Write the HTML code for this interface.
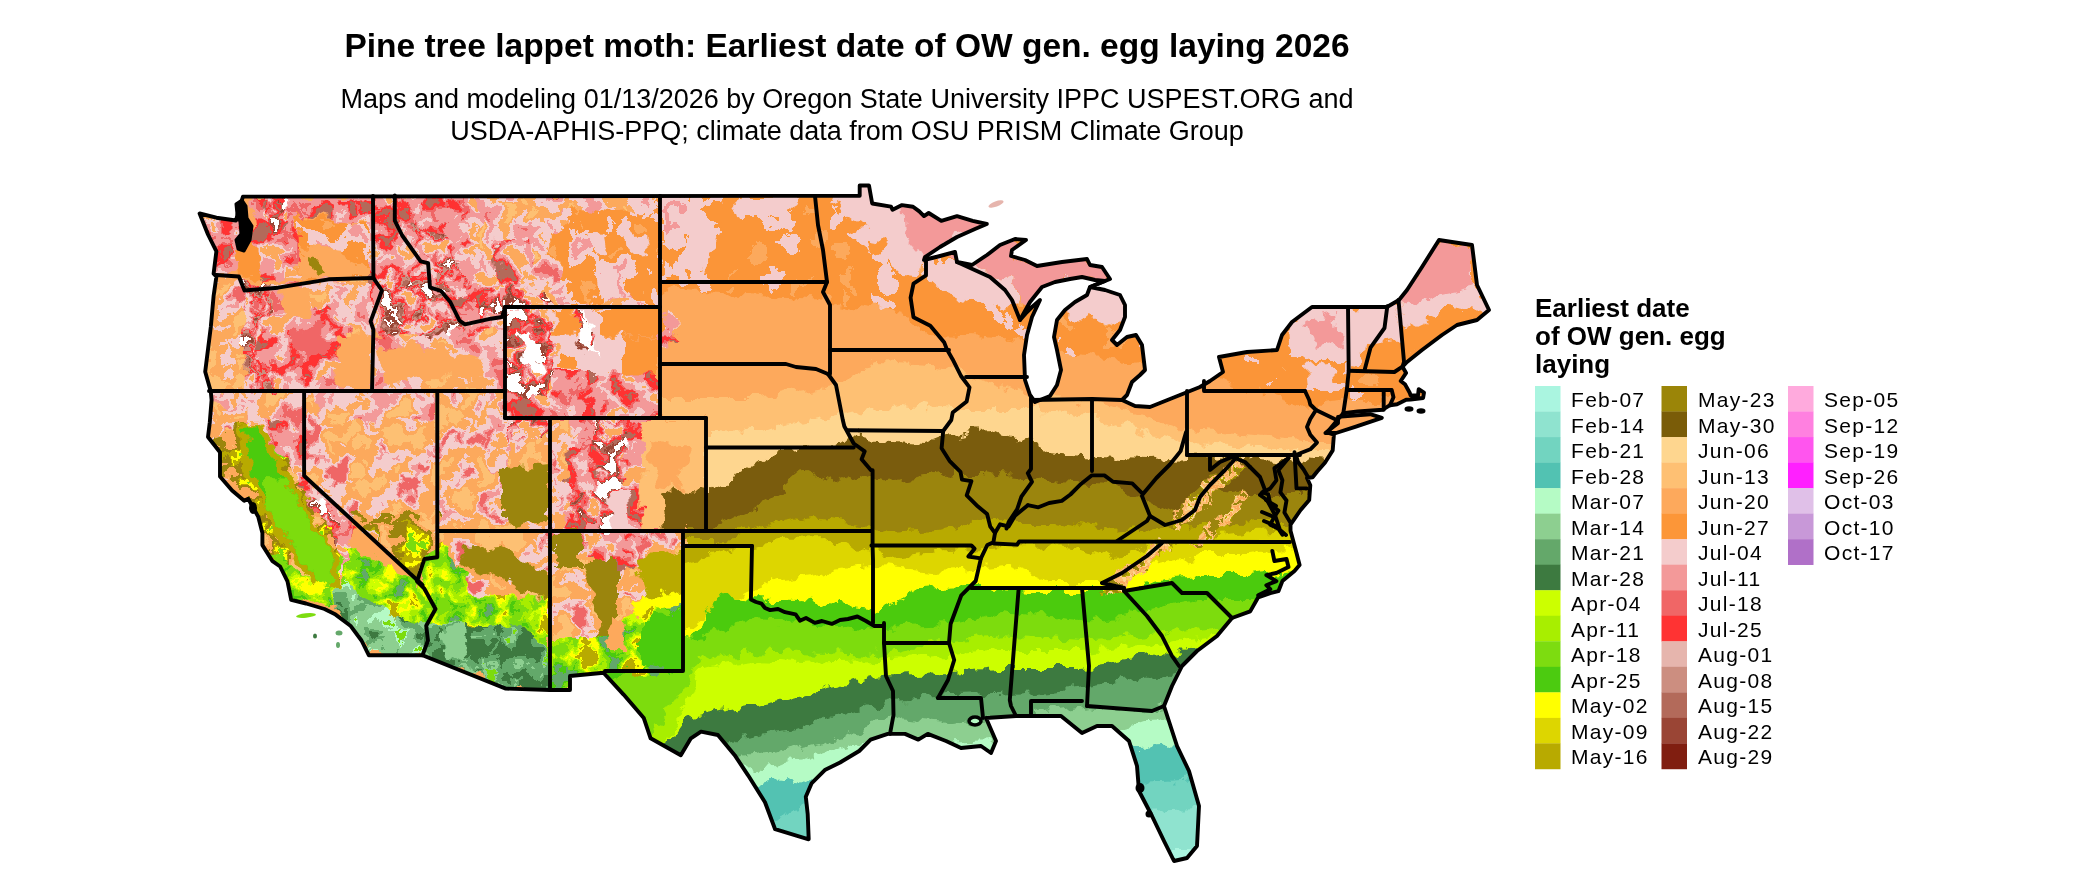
<!DOCTYPE html><html><head><meta charset="utf-8"><style>
html,body{margin:0;padding:0;background:#fff;width:2100px;height:892px;overflow:hidden;}
body{position:relative;font-family:"Liberation Sans",sans-serif;color:#000;}
.t{position:absolute;white-space:nowrap;line-height:1;will-change:transform;}
.title{left:0;width:1694px;text-align:center;font-weight:bold;font-size:33.5px;top:29px;}
.sub{left:0;width:1694px;text-align:center;font-size:27px;}
.lt{left:1534.5px;font-weight:bold;font-size:26px;}
.lab{font-size:21px;letter-spacing:1.3px;}
svg{position:absolute;left:0;top:0;}
</style></head><body>
<svg width="2100" height="892" viewBox="0 0 2100 892">
<defs>
<clipPath id="us"><polygon points="199.6,213.5 216.4,217.7 236,220.5 238.9,209.2 243,196.6 859.7,195.7 859.7,185.5 869,185.5 872.2,203.5 891,206.7 892.6,209.8 902,205.1 913,206.7 919.3,211.4 924,216.1 928.7,213 941.3,220.8 957,216.1 972.7,220.8 986.8,224 975,229 957,237 940,247 925,257 924,260 940,256 955,252 957,262 972,265 987,255 1000,245 1015,239 1026,240 1012,250 1011,256 1025,260 1037,266 1062,262 1087,259 1090,265 1102,267 1110,279 1105,281 1090,287 1105,290 1120,295 1125,305 1125,317 1120,330 1112,340 1117,345 1127,337 1136,335 1142,345 1145,370 1140,375 1132,382 1127,395 1122,400 1135,406 1150,407 1175,397 1200,387 1210,381 1223,372 1219,357 1247,352 1277,350 1282,335 1292,322 1312,307 1347,307 1387,307 1399,300 1407,290 1422,267 1439,240 1452,242 1472,245 1477,285 1489,310 1477,320 1457,325 1442,335 1422,350 1407,362 1402.5,366.7 1406.1,372.9 1400.7,381 1405.2,384.6 1409.7,392.7 1410.6,395.5 1418,395.5 1418.7,389.1 1424,392.7 1423.1,398 1410.6,399.5 1406.1,399.8 1397.1,404.3 1390,405.2 1382.8,409.7 1357.7,411.5 1343.3,413.3 1337.2,420.2 1327.1,432.5 1333.9,434.7 1332.7,450.4 1324.9,462.7 1317,471.7 1312.6,477.3 1307,478 1310.3,485.2 1309.2,500 1300.6,510 1290.5,524.7 1290.5,530.7 1296.5,552.9 1299.6,565 1294.5,571 1282.4,581.1 1278.4,591.2 1270.3,593.2 1258.2,597.3 1250.2,611.4 1232,618 1217,636 1197,651 1182,666 1172,686 1164,706 1177,746 1189,771 1199,806 1197,846 1187,858 1174,861 1164,841 1152,816 1139,791 1137,766 1129,741 1112,726 1097,726 1082,733 1061,716 1028,716 1016,716 986,718 996,741 991,753 981,746 961,748 946,741 927.8,733.9 918.3,739.6 905,733.9 887.8,733.9 870.6,739.6 859.2,751 840.1,762.5 824.8,770.1 811.5,783.4 805.8,796.8 807.7,814 808.7,839.3 775.1,829.2 765,802.3 748.1,775.3 734.7,755.2 717.9,735 701,731.6 690.9,738.3 680.8,755.2 650.6,738.3 643.8,718.1 623.6,694.6 603.5,672.7 570,676 570,690 550,690 505.8,688.6 422.5,655.3 368.9,655.3 368.9,655.3 361.5,640.5 350.4,625.7 335.6,614.6 324.5,609 306,603.5 291.2,599.8 287.5,581.3 280.1,566.5 272.5,561.2 262.4,545.1 262.4,533 258.3,516.9 248.2,498.7 244.2,500.7 232.1,490.6 220,476.5 220,452.3 208,437 209.8,422.2 211.6,400 210.8,391.5 205.2,371.8 206.6,360.6 210.8,327 213.6,296 216.4,276.5 213.6,273.7 216.4,251.3 208,234.5"/></clipPath>
<filter id="pR" filterUnits="userSpaceOnUse" x="150" y="150" width="1400" height="750" color-interpolation-filters="sRGB"><feTurbulence type="fractalNoise" baseFrequency="0.045" numOctaves="3" seed="3" result="n"/><feColorMatrix in="n" type="matrix" values="2.2 0 0 0 -0.600  2.2 0 0 0 -0.600  2.2 0 0 0 -0.600  0 0 0 0 1" result="s"/><feComponentTransfer in="s" result="p"><feFuncR type="discrete" tableValues="0.992 0.957 0.957 0.953 0.953 0.953 0.941 1.000 1.000 0.702"/><feFuncG type="discrete" tableValues="0.663 0.800 0.800 0.600 0.600 0.600 0.400 0.200 0.200 0.416"/><feFuncB type="discrete" tableValues="0.361 0.800 0.800 0.600 0.600 0.600 0.400 0.200 0.200 0.353"/></feComponentTransfer><feComposite in="p" in2="SourceAlpha" operator="in"/></filter>
<filter id="pB" filterUnits="userSpaceOnUse" x="150" y="150" width="1400" height="750" color-interpolation-filters="sRGB"><feTurbulence type="fractalNoise" baseFrequency="0.05" numOctaves="3" seed="5" result="n"/><feColorMatrix in="n" type="matrix" values="2.2 0 0 0 -0.600  2.2 0 0 0 -0.600  2.2 0 0 0 -0.600  0 0 0 0 1" result="s"/><feComponentTransfer in="s" result="p"><feFuncR type="discrete" tableValues="0.992 0.957 0.957 0.953 0.941 1.000 0.800 0.702 0.604 1.000"/><feFuncG type="discrete" tableValues="0.663 0.800 0.800 0.600 0.400 0.200 0.557 0.416 0.271 1.000"/><feFuncB type="discrete" tableValues="0.361 0.800 0.800 0.600 0.400 0.200 0.502 0.353 0.208 1.000"/></feComponentTransfer><feComposite in="p" in2="SourceAlpha" operator="in"/></filter>
<filter id="pPO" filterUnits="userSpaceOnUse" x="150" y="150" width="1400" height="750" color-interpolation-filters="sRGB"><feTurbulence type="fractalNoise" baseFrequency="0.035" numOctaves="3" seed="7" result="n"/><feColorMatrix in="n" type="matrix" values="2.2 0 0 0 -0.600  2.2 0 0 0 -0.600  2.2 0 0 0 -0.600  0 0 0 0 1" result="s"/><feComponentTransfer in="s" result="p"><feFuncR type="discrete" tableValues="0.996 0.992 0.992 0.957 0.957 0.953 0.953 0.941"/><feFuncG type="discrete" tableValues="0.753 0.663 0.663 0.800 0.800 0.600 0.600 0.400"/><feFuncB type="discrete" tableValues="0.451 0.361 0.361 0.800 0.800 0.600 0.600 0.400"/></feComponentTransfer><feComposite in="p" in2="SourceAlpha" operator="in"/></filter>
<filter id="pOP" filterUnits="userSpaceOnUse" x="150" y="150" width="1400" height="750" color-interpolation-filters="sRGB"><feTurbulence type="fractalNoise" baseFrequency="0.04" numOctaves="3" seed="9" result="n"/><feColorMatrix in="n" type="matrix" values="2.2 0 0 0 -0.600  2.2 0 0 0 -0.600  2.2 0 0 0 -0.600  0 0 0 0 1" result="s"/><feComponentTransfer in="s" result="p"><feFuncR type="discrete" tableValues="0.996 0.996 0.992 0.992 0.992 0.957 0.957 0.953 0.941"/><feFuncG type="discrete" tableValues="0.753 0.753 0.663 0.663 0.663 0.800 0.800 0.600 0.400"/><feFuncB type="discrete" tableValues="0.451 0.451 0.361 0.361 0.361 0.800 0.800 0.600 0.400"/></feComponentTransfer><feComposite in="p" in2="SourceAlpha" operator="in"/></filter>
<filter id="pW" filterUnits="userSpaceOnUse" x="150" y="150" width="1400" height="750" color-interpolation-filters="sRGB"><feTurbulence type="fractalNoise" baseFrequency="0.05" numOctaves="3" seed="11" result="n"/><feColorMatrix in="n" type="matrix" values="2.4 0 0 0 -0.650  2.4 0 0 0 -0.650  2.4 0 0 0 -0.650  0 0 0 0 1" result="s"/><feComponentTransfer in="s" result="p"><feFuncR type="discrete" tableValues="0.992 0.957 0.953 0.941 1.000 0.702 0.604 1.000 1.000"/><feFuncG type="discrete" tableValues="0.663 0.800 0.600 0.400 0.200 0.416 0.271 1.000 1.000"/><feFuncB type="discrete" tableValues="0.361 0.800 0.600 0.400 0.200 0.353 0.208 1.000 1.000"/></feComponentTransfer><feComposite in="p" in2="SourceAlpha" operator="in"/></filter>
<filter id="pOY" filterUnits="userSpaceOnUse" x="150" y="150" width="1400" height="750" color-interpolation-filters="sRGB"><feTurbulence type="fractalNoise" baseFrequency="0.045" numOctaves="3" seed="13" result="n"/><feColorMatrix in="n" type="matrix" values="2.2 0 0 0 -0.600  2.2 0 0 0 -0.600  2.2 0 0 0 -0.600  0 0 0 0 1" result="s"/><feComponentTransfer in="s" result="p"><feFuncR type="discrete" tableValues="0.490 1.000 0.722 0.608 0.608 0.992 0.992 0.996"/><feFuncG type="discrete" tableValues="0.863 1.000 0.667 0.522 0.522 0.663 0.663 0.753"/><feFuncB type="discrete" tableValues="0.063 0.000 0.000 0.031 0.031 0.361 0.361 0.451"/></feComponentTransfer><feComposite in="p" in2="SourceAlpha" operator="in"/></filter>
<filter id="pDG" filterUnits="userSpaceOnUse" x="150" y="150" width="1400" height="750" color-interpolation-filters="sRGB"><feTurbulence type="fractalNoise" baseFrequency="0.04" numOctaves="3" seed="15" result="n"/><feColorMatrix in="n" type="matrix" values="2.2 0 0 0 -0.600  2.2 0 0 0 -0.600  2.2 0 0 0 -0.600  0 0 0 0 1" result="s"/><feComponentTransfer in="s" result="p"><feFuncR type="discrete" tableValues="0.239 0.392 0.392 0.553 0.553 0.553 0.710 0.490"/><feFuncG type="discrete" tableValues="0.478 0.659 0.659 0.812 0.812 0.812 0.984 0.863"/><feFuncB type="discrete" tableValues="0.251 0.416 0.416 0.565 0.565 0.565 0.773 0.063"/></feComponentTransfer><feComposite in="p" in2="SourceAlpha" operator="in"/></filter>
<filter id="pGY" filterUnits="userSpaceOnUse" x="150" y="150" width="1400" height="750" color-interpolation-filters="sRGB"><feTurbulence type="fractalNoise" baseFrequency="0.045" numOctaves="3" seed="17" result="n"/><feColorMatrix in="n" type="matrix" values="2.2 0 0 0 -0.600  2.2 0 0 0 -0.600  2.2 0 0 0 -0.600  0 0 0 0 1" result="s"/><feComponentTransfer in="s" result="p"><feFuncR type="discrete" tableValues="0.392 0.298 0.490 0.490 0.659 0.800 1.000 0.722"/><feFuncG type="discrete" tableValues="0.659 0.796 0.863 0.863 0.933 1.000 1.000 0.667"/><feFuncB type="discrete" tableValues="0.416 0.063 0.063 0.063 0.000 0.000 0.000 0.000"/></feComponentTransfer><feComposite in="p" in2="SourceAlpha" operator="in"/></filter>
<filter id="pDG2" filterUnits="userSpaceOnUse" x="150" y="150" width="1400" height="750" color-interpolation-filters="sRGB"><feTurbulence type="fractalNoise" baseFrequency="0.05" numOctaves="3" seed="19" result="n"/><feColorMatrix in="n" type="matrix" values="2.2 0 0 0 -0.600  2.2 0 0 0 -0.600  2.2 0 0 0 -0.600  0 0 0 0 1" result="s"/><feComponentTransfer in="s" result="p"><feFuncR type="discrete" tableValues="0.239 0.239 0.239 0.392 0.392 0.553 0.490"/><feFuncG type="discrete" tableValues="0.478 0.478 0.478 0.659 0.659 0.812 0.863"/><feFuncB type="discrete" tableValues="0.251 0.251 0.251 0.416 0.416 0.565 0.063"/></feComponentTransfer><feComposite in="p" in2="SourceAlpha" operator="in"/></filter>
<filter id="p27" filterUnits="userSpaceOnUse" x="150" y="150" width="1400" height="750" color-interpolation-filters="sRGB"><feTurbulence type="fractalNoise" baseFrequency="0.03" numOctaves="3" seed="25" result="n"/><feColorMatrix in="n" type="matrix" values="2.0 0 0 0 -0.500  2.0 0 0 0 -0.500  2.0 0 0 0 -0.500  0 0 0 0 1" result="s"/><feComponentTransfer in="s" result="p"><feFuncR type="discrete" tableValues="0.992 0.988 0.988 0.988 0.988 0.988 0.988 0.957"/><feFuncG type="discrete" tableValues="0.663 0.588 0.588 0.588 0.588 0.588 0.588 0.800"/><feFuncB type="discrete" tableValues="0.361 0.220 0.220 0.220 0.220 0.220 0.220 0.800"/></feComponentTransfer><feComposite in="p" in2="SourceAlpha" operator="in"/></filter>
<filter id="pP27" filterUnits="userSpaceOnUse" x="150" y="150" width="1400" height="750" color-interpolation-filters="sRGB"><feTurbulence type="fractalNoise" baseFrequency="0.035" numOctaves="3" seed="21" result="n"/><feColorMatrix in="n" type="matrix" values="2.0 0 0 0 -0.500  2.0 0 0 0 -0.500  2.0 0 0 0 -0.500  0 0 0 0 1" result="s"/><feComponentTransfer in="s" result="p"><feFuncR type="discrete" tableValues="0.988 0.988 0.957 0.957 0.957 0.953"/><feFuncG type="discrete" tableValues="0.588 0.588 0.800 0.800 0.800 0.600"/><feFuncB type="discrete" tableValues="0.220 0.220 0.800 0.800 0.800 0.600"/></feComponentTransfer><feComposite in="p" in2="SourceAlpha" operator="in"/></filter>
<filter id="pAP" filterUnits="userSpaceOnUse" x="150" y="150" width="1400" height="750" color-interpolation-filters="sRGB"><feTurbulence type="fractalNoise" baseFrequency="0.08" numOctaves="3" seed="23" result="n"/><feColorMatrix in="n" type="matrix" values="2.4 0 0 0 -0.700  2.4 0 0 0 -0.700  2.4 0 0 0 -0.700  0 0 0 0 1" result="s"/><feComponentTransfer in="s" result="p"><feFuncR type="discrete" tableValues="0.608 0.722 0.996 0.996 0.992 0.996 0.608"/><feFuncG type="discrete" tableValues="0.522 0.667 0.839 0.753 0.663 0.753 0.522"/><feFuncB type="discrete" tableValues="0.031 0.000 0.561 0.451 0.361 0.451 0.031"/></feComponentTransfer><feComposite in="p" in2="SourceAlpha" operator="in"/></filter>
<filter id="pE27" filterUnits="userSpaceOnUse" x="150" y="150" width="1400" height="750" color-interpolation-filters="sRGB"><feTurbulence type="fractalNoise" baseFrequency="0.035" numOctaves="3" seed="29" result="n"/><feColorMatrix in="n" type="matrix" values="2.0 0 0 0 -0.500  2.0 0 0 0 -0.500  2.0 0 0 0 -0.500  0 0 0 0 1" result="s"/><feComponentTransfer in="s" result="p"><feFuncR type="discrete" tableValues="0.992 0.988 0.988 0.988 0.957 0.957 0.953"/><feFuncG type="discrete" tableValues="0.663 0.588 0.588 0.588 0.800 0.800 0.600"/><feFuncB type="discrete" tableValues="0.361 0.220 0.220 0.220 0.800 0.800 0.600"/></feComponentTransfer><feComposite in="p" in2="SourceAlpha" operator="in"/></filter>
<filter id="disp" filterUnits="userSpaceOnUse" x="150" y="150" width="1400" height="750"><feTurbulence type="fractalNoise" baseFrequency="0.06" numOctaves="4" seed="7" result="dn"/><feDisplacementMap in="SourceGraphic" in2="dn" scale="20" xChannelSelector="R" yChannelSelector="G"/></filter>
</defs>
<g clip-path="url(#us)">
<polygon points="199.6,213.5 216.4,217.7 236,220.5 238.9,209.2 243,196.6 859.7,195.7 859.7,185.5 869,185.5 872.2,203.5 891,206.7 892.6,209.8 902,205.1 913,206.7 919.3,211.4 924,216.1 928.7,213 941.3,220.8 957,216.1 972.7,220.8 986.8,224 975,229 957,237 940,247 925,257 924,260 940,256 955,252 957,262 972,265 987,255 1000,245 1015,239 1026,240 1012,250 1011,256 1025,260 1037,266 1062,262 1087,259 1090,265 1102,267 1110,279 1105,281 1090,287 1105,290 1120,295 1125,305 1125,317 1120,330 1112,340 1117,345 1127,337 1136,335 1142,345 1145,370 1140,375 1132,382 1127,395 1122,400 1135,406 1150,407 1175,397 1200,387 1210,381 1223,372 1219,357 1247,352 1277,350 1282,335 1292,322 1312,307 1347,307 1387,307 1399,300 1407,290 1422,267 1439,240 1452,242 1472,245 1477,285 1489,310 1477,320 1457,325 1442,335 1422,350 1407,362 1402.5,366.7 1406.1,372.9 1400.7,381 1405.2,384.6 1409.7,392.7 1410.6,395.5 1418,395.5 1418.7,389.1 1424,392.7 1423.1,398 1410.6,399.5 1406.1,399.8 1397.1,404.3 1390,405.2 1382.8,409.7 1357.7,411.5 1343.3,413.3 1337.2,420.2 1327.1,432.5 1333.9,434.7 1332.7,450.4 1324.9,462.7 1317,471.7 1312.6,477.3 1307,478 1310.3,485.2 1309.2,500 1300.6,510 1290.5,524.7 1290.5,530.7 1296.5,552.9 1299.6,565 1294.5,571 1282.4,581.1 1278.4,591.2 1270.3,593.2 1258.2,597.3 1250.2,611.4 1232,618 1217,636 1197,651 1182,666 1172,686 1164,706 1177,746 1189,771 1199,806 1197,846 1187,858 1174,861 1164,841 1152,816 1139,791 1137,766 1129,741 1112,726 1097,726 1082,733 1061,716 1028,716 1016,716 986,718 996,741 991,753 981,746 961,748 946,741 927.8,733.9 918.3,739.6 905,733.9 887.8,733.9 870.6,739.6 859.2,751 840.1,762.5 824.8,770.1 811.5,783.4 805.8,796.8 807.7,814 808.7,839.3 775.1,829.2 765,802.3 748.1,775.3 734.7,755.2 717.9,735 701,731.6 690.9,738.3 680.8,755.2 650.6,738.3 643.8,718.1 623.6,694.6 603.5,672.7 570,676 570,690 550,690 505.8,688.6 422.5,655.3 368.9,655.3 368.9,655.3 361.5,640.5 350.4,625.7 335.6,614.6 324.5,609 306,603.5 291.2,599.8 287.5,581.3 280.1,566.5 272.5,561.2 262.4,545.1 262.4,533 258.3,516.9 248.2,498.7 244.2,500.7 232.1,490.6 220,476.5 220,452.3 208,437 209.8,422.2 211.6,400 210.8,391.5 205.2,371.8 206.6,360.6 210.8,327 213.6,296 216.4,276.5 213.6,273.7 216.4,251.3 208,234.5" fill="#fda95c"/>
<g filter="url(#disp)">
<polygon points="661.0,290.0 668.1,290.4 675.1,290.7 682.2,291.1 689.3,291.4 696.4,291.8 703.4,292.1 710.5,292.5 717.6,292.9 724.6,293.2 731.7,293.6 738.8,293.9 745.9,294.3 752.9,294.6 760.0,295.0 767.4,295.6 774.9,296.1 782.3,296.7 789.8,297.2 797.2,297.8 804.7,298.3 812.1,298.9 819.6,299.4 827.0,300.0 834.7,301.7 842.3,303.3 850.0,305.0 857.1,306.0 864.3,307.0 871.4,308.0 878.6,309.0 885.7,310.0 892.9,311.0 900.0,312.0 906.0,316.6 912.0,321.2 918.0,325.8 924.0,330.4 930.0,335.0 937.0,335.2 944.0,335.4 951.0,335.6 958.0,335.8 965.0,336.0 972.0,336.2 979.0,336.4 986.0,336.6 993.0,336.8 1000.0,337.0 1007.5,338.2 1015.0,339.5 1022.5,340.8 1030.0,342.0 1037.0,344.6 1044.0,347.2 1051.0,349.8 1058.0,352.4 1065.0,355.0 1072.2,355.6 1079.4,356.1 1086.7,356.7 1093.9,357.2 1101.1,357.8 1108.3,358.3 1115.6,358.9 1122.8,359.4 1130.0,360.0 1136.9,361.5 1143.8,363.1 1150.8,364.6 1157.7,366.2 1164.6,367.7 1171.5,369.2 1178.5,370.8 1185.4,372.3 1192.3,373.8 1199.2,375.4 1206.2,376.9 1213.1,378.5 1220.0,380.0 1227.3,382.3 1234.5,384.5 1241.8,386.8 1249.1,389.1 1256.4,391.4 1263.6,393.6 1270.9,395.9 1278.2,398.2 1285.5,400.5 1292.7,402.7 1300.0,405.0 1307.1,404.3 1314.3,403.6 1321.4,402.9 1328.6,402.1 1335.7,401.4 1342.9,400.7 1350.0,400.0 1357.1,400.0 1364.3,400.0 1371.4,400.0 1378.6,400.0 1385.7,400.0 1392.9,400.0 1400.0,400.0 1407.1,400.0 1414.3,400.0 1421.4,400.0 1428.6,400.0 1435.7,400.0 1442.9,400.0 1450.0,400.0 1457.1,400.0 1464.3,400.0 1471.4,400.0 1478.6,400.0 1485.7,400.0 1492.9,400.0 1500.0,400.0 1500.0,100.0 660.0,100.0 660.0,290.0 661.0,290.0" fill="#fda95c" filter="url(#p27)"/>
<polygon points="1545.0,900.0 1545.0,440.0 1345.0,440.0 1337.5,440.0 1330.0,440.0 1322.5,440.0 1315.0,440.0 1307.5,440.0 1300.0,440.0 1292.7,439.3 1285.3,438.7 1278.0,438.0 1270.7,437.3 1263.3,436.7 1256.0,436.0 1248.7,435.3 1241.3,434.7 1234.0,434.0 1226.7,433.3 1219.3,432.7 1212.0,432.0 1204.7,431.3 1197.3,430.7 1190.0,430.0 1183.0,427.9 1176.0,425.7 1169.0,423.6 1162.0,421.4 1155.0,419.3 1148.0,417.1 1141.0,415.0 1134.0,412.9 1127.0,410.7 1120.0,408.6 1113.0,406.4 1106.0,404.3 1099.0,402.1 1092.0,400.0 1084.2,399.4 1076.5,398.8 1068.8,398.1 1061.0,397.5 1053.2,396.9 1045.5,396.2 1037.8,395.6 1030.0,395.0 1022.5,392.5 1015.0,390.0 1007.5,387.5 1000.0,385.0 993.4,382.6 986.8,380.2 980.1,377.9 973.5,375.5 966.9,373.1 960.2,370.8 953.6,368.4 947.0,366.0 939.6,365.6 932.1,365.1 924.7,364.7 917.2,364.2 909.8,363.8 902.3,363.3 894.9,362.9 887.4,362.4 880.0,362.0 872.9,365.3 865.7,368.6 858.6,371.9 851.4,375.1 844.3,378.4 837.1,381.7 830.0,385.0 823.0,386.3 816.0,387.6 809.0,388.9 802.0,390.2 795.0,391.5 788.0,392.8 781.0,394.1 774.0,395.4 767.0,396.7 760.0,398.0 752.9,398.0 745.9,398.0 738.8,398.0 731.7,398.0 724.6,398.0 717.6,398.0 710.5,398.0 703.4,398.0 696.4,398.0 689.3,398.0 682.2,398.0 675.1,398.0 668.1,398.0 661.0,398.0 660.0,398.0 660.0,418.0 706.0,418.0 706.0,531.0 683.0,531.0 683.0,672.0 605.0,672.0 605.0,900.0 1545.0,900.0" fill="#fec073"/>
<polygon points="1545.0,900.0 1545.0,452.0 1345.0,452.0 1337.5,451.7 1330.0,451.3 1322.5,451.0 1315.0,450.7 1307.5,450.3 1300.0,450.0 1292.7,449.7 1285.3,449.3 1278.0,449.0 1270.7,448.7 1263.3,448.3 1256.0,448.0 1248.7,447.7 1241.3,447.3 1234.0,447.0 1226.7,446.7 1219.3,446.3 1212.0,446.0 1204.7,445.7 1197.3,445.3 1190.0,445.0 1183.0,442.9 1176.0,440.7 1169.0,438.6 1162.0,436.4 1155.0,434.3 1148.0,432.1 1141.0,430.0 1134.0,427.9 1127.0,425.7 1120.0,423.6 1113.0,421.4 1106.0,419.3 1099.0,417.1 1092.0,415.0 1084.2,414.4 1076.5,413.8 1068.8,413.1 1061.0,412.5 1053.2,411.9 1045.5,411.2 1037.8,410.6 1030.0,410.0 1022.7,410.0 1015.5,410.0 1008.2,410.0 1000.9,410.0 993.6,410.0 986.4,410.0 979.1,410.0 971.8,410.0 964.5,410.0 957.3,410.0 950.0,410.0 942.9,409.3 935.7,408.6 928.6,407.9 921.4,407.1 914.3,406.4 907.1,405.7 900.0,405.0 892.9,406.0 885.7,407.0 878.6,408.0 871.4,409.0 864.3,410.0 857.1,411.0 850.0,412.0 843.1,413.4 836.2,414.8 829.2,416.2 822.3,417.5 815.4,418.9 808.5,420.3 801.5,421.7 794.6,423.1 787.7,424.5 780.8,425.8 773.8,427.2 766.9,428.6 760.0,430.0 752.9,429.9 745.9,429.7 738.8,429.6 731.7,429.4 724.6,429.3 717.6,429.1 710.5,429.0 706.0,428.9 706.0,531.0 683.0,531.0 683.0,672.0 605.0,672.0 605.0,900.0 1545.0,900.0" fill="#fed68f"/>
<polygon points="1545.0,900.0 1545.0,465.0 1345.0,465.0 1337.5,464.2 1330.0,463.3 1322.5,462.5 1315.0,461.7 1307.5,460.8 1300.0,460.0 1292.0,459.6 1284.0,459.2 1276.0,458.8 1268.0,458.4 1260.0,458.0 1252.2,457.5 1244.3,457.0 1236.5,456.5 1228.7,456.0 1220.8,455.5 1213.0,455.0 1204.3,455.3 1195.7,455.7 1187.0,456.0 1179.6,456.4 1172.2,456.8 1164.8,457.2 1157.4,457.6 1150.0,458.0 1142.8,457.8 1135.5,457.5 1128.2,457.2 1121.0,457.0 1113.8,456.8 1106.5,456.5 1099.2,456.2 1092.0,456.0 1084.8,455.3 1077.7,454.7 1070.5,454.0 1063.3,453.3 1056.2,452.7 1049.0,452.0 1040.5,446.5 1032.0,441.0 1023.3,439.0 1014.7,437.0 1006.0,435.0 999.0,433.3 992.0,431.7 985.0,430.0 977.0,431.2 969.0,432.4 961.0,433.6 953.0,434.8 945.0,436.0 937.5,439.0 930.0,442.0 922.0,441.6 914.0,441.2 906.0,440.8 898.0,440.4 890.0,440.0 883.0,439.3 876.0,438.7 869.0,438.0 862.0,437.3 855.0,436.7 848.0,436.0 841.5,440.5 835.0,445.0 827.1,445.7 819.3,446.4 811.4,447.1 803.6,447.9 795.7,448.6 787.9,449.3 780.0,450.0 773.8,453.8 767.5,457.5 761.2,461.2 755.0,465.0 748.8,468.8 742.5,472.5 736.2,476.2 730.0,480.0 723.3,486.0 716.7,492.0 710.0,498.0 706.0,497.6 706.0,531.0 683.0,531.0 683.0,672.0 605.0,672.0 605.0,900.0 1545.0,900.0" fill="#7a5c08"/>
<polygon points="1500.0,900.0 1500.0,495.0 1300.0,495.0 1292.0,495.0 1284.0,495.0 1276.0,495.0 1268.0,495.0 1260.0,495.0 1252.0,494.0 1244.0,493.0 1236.0,492.0 1228.0,491.0 1220.0,490.0 1214.3,494.3 1208.6,498.6 1202.9,502.9 1197.1,507.1 1191.4,511.4 1185.7,515.7 1180.0,520.0 1173.8,516.7 1167.7,513.3 1161.5,510.0 1155.3,506.7 1149.2,503.3 1143.0,500.0 1135.5,496.0 1128.0,492.0 1120.5,488.0 1113.0,484.0 1105.8,483.7 1098.7,483.3 1091.5,483.0 1084.3,482.7 1077.2,482.3 1070.0,482.0 1062.4,481.1 1054.8,480.2 1047.2,479.3 1039.6,478.4 1032.0,477.5 1023.3,476.7 1014.7,475.8 1006.0,475.0 998.7,474.0 991.3,473.0 984.0,472.0 976.2,472.0 968.5,472.0 960.8,472.0 953.0,472.0 945.0,473.0 937.0,474.0 929.0,475.0 921.0,476.0 913.2,477.2 905.5,478.5 897.8,479.8 890.0,481.0 882.0,478.8 874.0,476.5 866.0,474.2 858.0,472.0 850.2,474.8 842.5,477.5 834.8,480.2 827.0,483.0 819.0,479.3 811.0,475.7 803.0,472.0 797.2,477.0 791.5,482.0 785.8,487.0 780.0,492.0 773.8,495.5 767.5,499.0 761.2,502.5 755.0,506.0 748.8,509.5 742.5,513.0 736.2,516.5 730.0,520.0 722.0,524.0 714.0,528.0 706.0,532.0 698.5,532.0 691.0,532.0 683.5,532.0 683.0,532.0 683.0,672.0 605.0,672.0 605.0,900.0 1500.0,900.0" fill="#9b8508"/>
<polygon points="1500.0,900.0 1500.0,520.0 1300.0,520.0 1292.0,520.0 1284.0,520.0 1276.0,520.0 1268.0,520.0 1260.0,520.0 1252.5,520.6 1245.0,521.2 1237.5,521.9 1230.0,522.5 1222.5,523.1 1215.0,523.8 1207.5,524.4 1200.0,525.0 1192.8,525.5 1185.5,526.0 1178.2,526.4 1171.0,526.9 1163.8,527.4 1156.5,527.9 1149.2,528.3 1142.0,528.8 1134.8,529.3 1127.5,529.8 1120.2,530.2 1113.0,530.7 1105.9,529.7 1098.8,528.8 1091.7,527.8 1084.6,526.8 1077.4,525.9 1070.3,524.9 1063.2,523.9 1056.1,523.0 1049.0,522.0 1041.8,522.0 1034.7,522.0 1027.5,522.0 1020.3,522.0 1013.2,522.0 1006.0,522.0 998.7,521.3 991.3,520.7 984.0,520.0 976.2,521.7 968.3,523.3 960.5,525.0 952.7,526.7 944.8,528.3 937.0,530.0 929.2,530.5 921.3,531.0 913.5,531.5 905.7,532.0 897.8,532.5 890.0,533.0 882.0,530.2 874.0,527.5 866.0,524.8 858.0,522.0 850.2,521.2 842.3,520.3 834.5,519.5 826.7,518.7 818.8,517.8 811.0,517.0 803.2,518.2 795.5,519.5 787.8,520.8 780.0,522.0 772.5,524.2 765.0,526.5 757.5,528.8 750.0,531.0 742.5,533.2 735.0,535.5 727.5,537.8 720.0,540.0 712.6,540.0 705.2,540.0 697.9,540.0 690.5,540.0 683.1,540.0 683.0,540.0 683.0,672.0 605.0,672.0 605.0,900.0 1500.0,900.0" fill="#b8aa00"/>
<polygon points="1500.0,900.0 1500.0,530.0 1300.0,530.0 1292.9,530.3 1285.7,530.6 1278.6,530.9 1271.4,531.1 1264.3,531.4 1257.1,531.7 1250.0,532.0 1242.9,532.9 1235.7,533.9 1228.6,534.8 1221.4,535.7 1214.3,536.6 1207.1,537.6 1200.0,538.5 1192.9,539.4 1185.7,540.4 1178.6,541.3 1171.4,542.2 1164.3,543.1 1157.1,544.1 1150.0,545.0 1142.6,547.2 1135.2,549.4 1127.8,551.6 1120.4,553.8 1113.0,556.0 1105.9,554.8 1098.8,553.6 1091.7,552.3 1084.6,551.1 1077.4,549.9 1070.3,548.7 1063.2,547.4 1056.1,546.2 1049.0,545.0 1041.9,545.3 1034.8,545.7 1027.7,546.0 1020.6,546.3 1013.4,546.7 1006.3,547.0 999.2,547.3 992.1,547.7 985.0,548.0 977.7,548.6 970.4,549.2 963.1,549.8 955.8,550.5 948.5,551.1 941.2,551.7 933.8,552.3 926.5,552.9 919.2,553.5 911.9,554.2 904.6,554.8 897.3,555.4 890.0,556.0 883.0,554.1 876.0,552.2 869.0,550.3 862.0,548.4 855.0,546.6 848.0,544.7 841.0,542.8 834.0,540.9 827.0,539.0 819.2,539.2 811.3,539.3 803.5,539.5 795.7,539.7 787.8,539.8 780.0,540.0 773.1,541.4 766.1,542.9 759.2,544.3 752.3,545.7 745.4,547.1 738.4,548.6 731.5,550.0 724.6,551.4 717.6,552.9 710.7,554.3 703.8,555.7 696.9,557.1 689.9,558.6 683.0,560.0 683.0,672.0 605.0,672.0 605.0,900.0 1500.0,900.0" fill="#ddd600"/>
<polygon points="1500.0,900.0 1500.0,550.0 1300.0,550.0 1292.9,550.7 1285.7,551.4 1278.6,552.1 1271.4,552.9 1264.3,553.6 1257.1,554.3 1250.0,555.0 1242.9,555.0 1235.7,555.0 1228.6,555.0 1221.4,555.0 1214.3,555.0 1207.1,555.0 1200.0,555.0 1192.9,556.4 1185.7,557.9 1178.6,559.3 1171.4,560.7 1164.3,562.1 1157.1,563.6 1150.0,565.0 1142.6,568.4 1135.2,571.8 1127.8,575.2 1120.4,578.6 1113.0,582.0 1105.9,582.0 1098.8,582.0 1091.7,582.0 1084.6,582.0 1077.4,582.0 1070.3,582.0 1063.2,582.0 1056.1,582.0 1049.0,582.0 1041.8,579.2 1034.7,576.3 1027.5,573.5 1020.3,570.7 1013.2,567.8 1006.0,565.0 999.0,565.7 992.0,566.3 985.0,567.0 978.0,567.7 971.0,568.3 964.0,569.0 955.5,569.2 947.0,569.5 938.5,569.8 930.0,570.0 922.9,569.3 915.7,568.6 908.6,567.9 901.4,567.1 894.3,566.4 887.1,565.7 880.0,565.0 872.9,565.7 865.7,566.4 858.6,567.1 851.4,567.9 844.3,568.6 837.1,569.3 830.0,570.0 822.9,571.1 815.7,572.3 808.6,573.4 801.4,574.6 794.3,575.7 787.1,576.9 780.0,578.0 772.8,580.8 765.5,583.5 758.2,586.2 751.0,589.0 743.2,593.0 735.5,597.0 727.8,601.0 720.0,605.0 713.8,609.5 707.7,614.0 701.5,618.5 695.3,623.0 689.2,627.5 683.0,632.0 683.0,672.0 605.0,672.0 605.0,900.0 1500.0,900.0" fill="#ffff00"/>
<polygon points="1500.0,900.0 1500.0,570.0 1300.0,570.0 1292.9,570.7 1285.7,571.4 1278.6,572.1 1271.4,572.9 1264.3,573.6 1257.1,574.3 1250.0,575.0 1242.9,575.0 1235.7,575.0 1228.6,575.0 1221.4,575.0 1214.3,575.0 1207.1,575.0 1200.0,575.0 1192.0,576.0 1184.0,577.0 1176.0,578.0 1168.0,579.0 1160.0,580.0 1151.8,582.5 1143.5,585.0 1135.2,587.5 1127.0,590.0 1119.2,590.0 1111.3,590.0 1103.5,590.0 1095.7,590.0 1087.8,590.0 1080.0,590.0 1072.6,590.0 1065.1,590.0 1057.7,590.0 1050.3,590.0 1042.9,590.0 1035.4,590.0 1028.0,590.0 1020.9,589.6 1013.8,589.1 1006.7,588.7 999.6,588.2 992.4,587.8 985.3,587.3 978.2,586.9 971.1,586.4 964.0,586.0 956.8,586.3 949.7,586.7 942.5,587.0 935.3,587.3 928.2,587.7 921.0,588.0 914.2,591.7 907.3,595.3 900.5,599.0 893.7,602.7 886.8,606.3 880.0,610.0 872.5,609.0 865.0,608.0 857.5,607.0 850.0,606.0 842.9,605.3 835.7,604.6 828.6,603.9 821.4,603.1 814.3,602.4 807.1,601.7 800.0,601.0 793.0,600.7 786.0,600.4 779.0,600.1 772.0,599.9 765.0,599.6 758.0,599.3 751.0,599.0 743.2,598.2 735.5,597.5 727.8,596.8 720.0,596.0 715.9,601.8 711.8,607.6 707.7,613.3 703.6,619.1 699.4,624.9 695.3,630.7 691.2,636.4 687.1,642.2 683.0,648.0 683.0,672.0 605.0,672.0 605.0,900.0 1500.0,900.0" fill="#4ccb10"/>
<polygon points="625.5,674.6 619.2,678.5 612.8,682.3 606.4,686.2 605.0,687.0 605.0,900.0 1500.0,900.0 1500.0,595.0 1300.0,595.0 1292.9,595.7 1285.7,596.4 1278.6,597.1 1271.4,597.9 1264.3,598.6 1257.1,599.3 1250.0,600.0 1242.9,600.0 1235.7,600.0 1228.6,600.0 1221.4,600.0 1214.3,600.0 1207.1,600.0 1200.0,600.0 1193.0,601.5 1186.0,603.0 1179.0,604.5 1172.0,606.0 1165.0,607.5 1158.0,609.0 1151.0,610.5 1144.0,612.0 1137.0,613.5 1130.0,615.0 1122.9,615.7 1115.7,616.4 1108.6,617.1 1101.4,617.9 1094.3,618.6 1087.1,619.3 1080.0,620.0 1072.7,619.3 1065.5,618.5 1058.2,617.8 1050.9,617.1 1043.6,616.4 1036.4,615.6 1029.1,614.9 1021.8,614.2 1014.5,613.5 1007.3,612.7 1000.0,612.0 992.9,613.9 985.7,615.7 978.6,617.6 971.4,619.4 964.3,621.3 957.1,623.1 950.0,625.0 943.0,625.3 936.0,625.6 929.0,625.9 922.0,626.2 915.0,626.5 908.0,626.8 901.0,627.1 894.0,627.4 887.0,627.7 880.0,628.0 872.7,627.5 865.5,626.9 858.2,626.4 850.9,625.8 843.6,625.3 836.4,624.7 829.1,624.2 821.8,623.6 814.5,623.1 807.3,622.5 800.0,622.0 793.0,621.7 786.0,621.4 779.0,621.1 772.0,620.9 765.0,620.6 758.0,620.3 751.0,620.0 744.2,622.0 737.4,624.0 730.6,626.0 723.8,628.0 717.0,630.0 710.2,632.0 703.4,634.0 696.6,636.0 689.8,638.0 683.0,640.0 683.0,672.0 629.9,672.0 625.5,674.6" fill="#7ddc10"/>
<polygon points="1500.0,900.0 1500.0,615.0 1300.0,615.0 1292.9,615.7 1285.7,616.4 1278.6,617.1 1271.4,617.9 1264.3,618.6 1257.1,619.3 1250.0,620.0 1242.9,621.1 1235.7,622.1 1228.6,623.2 1221.4,624.3 1214.3,625.4 1207.1,626.4 1200.0,627.5 1192.9,628.6 1185.7,629.6 1178.6,630.7 1171.4,631.8 1164.3,632.9 1157.1,633.9 1150.0,635.0 1143.0,635.5 1136.0,636.0 1129.0,636.5 1122.0,637.0 1115.0,637.5 1108.0,638.0 1101.0,638.5 1094.0,639.0 1087.0,639.5 1080.0,640.0 1072.7,639.5 1065.5,639.1 1058.2,638.6 1050.9,638.2 1043.6,637.7 1036.4,637.3 1029.1,636.8 1021.8,636.4 1014.5,635.9 1007.3,635.5 1000.0,635.0 992.9,635.7 985.7,636.4 978.6,637.1 971.4,637.9 964.3,638.6 957.1,639.3 950.0,640.0 943.0,641.5 936.0,643.0 929.0,644.5 922.0,646.0 915.0,647.5 908.0,649.0 901.0,650.5 894.0,652.0 887.0,653.5 880.0,655.0 872.7,654.7 865.5,654.5 858.2,654.2 850.9,653.9 843.6,653.6 836.4,653.4 829.1,653.1 821.8,652.8 814.5,652.5 807.3,652.3 800.0,652.0 793.0,651.7 786.0,651.4 779.0,651.1 772.0,650.9 765.0,650.6 758.0,650.3 751.0,650.0 743.7,651.4 736.4,652.9 729.1,654.3 721.9,655.7 714.6,657.1 707.3,658.6 700.0,660.0 696.2,666.2 692.3,672.3 688.5,678.5 684.6,684.6 680.8,690.8 676.9,696.9 673.1,703.1 669.2,709.2 665.4,715.4 661.5,721.5 657.7,727.7 653.8,733.8 650.0,740.0 642.9,742.9 635.7,745.7 628.6,748.6 621.4,751.4 614.3,754.3 607.1,757.1 605.0,758.0 605.0,900.0 1500.0,900.0" fill="#a8ee00"/>
<polygon points="1500.0,900.0 1500.0,625.0 1300.0,625.0 1292.9,625.7 1285.7,626.4 1278.6,627.1 1271.4,627.9 1264.3,628.6 1257.1,629.3 1250.0,630.0 1242.9,631.1 1235.7,632.1 1228.6,633.2 1221.4,634.3 1214.3,635.4 1207.1,636.4 1200.0,637.5 1192.9,638.6 1185.7,639.6 1178.6,640.7 1171.4,641.8 1164.3,642.9 1157.1,643.9 1150.0,645.0 1143.0,645.5 1136.0,646.0 1129.0,646.5 1122.0,647.0 1115.0,647.5 1108.0,648.0 1101.0,648.5 1094.0,649.0 1087.0,649.5 1080.0,650.0 1072.7,650.0 1065.5,650.0 1058.2,650.0 1050.9,650.0 1043.6,650.0 1036.4,650.0 1029.1,650.0 1021.8,650.0 1014.5,650.0 1007.3,650.0 1000.0,650.0 992.9,650.7 985.7,651.4 978.6,652.1 971.4,652.9 964.3,653.6 957.1,654.3 950.0,655.0 943.0,655.5 936.0,656.0 929.0,656.5 922.0,657.0 915.0,657.5 908.0,658.0 901.0,658.5 894.0,659.0 887.0,659.5 880.0,660.0 872.7,660.2 865.5,660.4 858.2,660.5 850.9,660.7 843.6,660.9 836.4,661.1 829.1,661.3 821.8,661.5 814.5,661.6 807.3,661.8 800.0,662.0 793.0,661.7 786.0,661.4 779.0,661.1 772.0,660.9 765.0,660.6 758.0,660.3 751.0,660.0 743.7,661.1 736.4,662.3 729.1,663.4 721.9,664.6 714.6,665.7 707.3,666.9 700.0,668.0 697.1,674.6 694.3,681.1 691.4,687.7 688.6,694.3 685.7,700.9 682.9,707.4 680.0,714.0 677.1,720.6 674.3,727.1 671.4,733.7 668.6,740.3 665.7,746.9 662.9,753.4 660.0,760.0 653.3,763.3 646.7,766.7 640.0,770.0 633.3,773.3 626.7,776.7 620.0,780.0 613.3,783.3 606.7,786.7 605.0,787.5 605.0,900.0 1500.0,900.0" fill="#ccff00"/>
<polygon points="1450.0,900.0 1450.0,640.0 1250.0,640.0 1243.0,641.0 1236.0,642.0 1229.0,643.0 1222.0,644.0 1215.0,645.0 1208.0,646.0 1201.0,647.0 1194.0,648.0 1187.0,649.0 1180.0,650.0 1172.9,651.4 1165.7,652.9 1158.6,654.3 1151.4,655.7 1144.3,657.1 1137.1,658.6 1130.0,660.0 1122.9,661.1 1115.7,662.3 1108.6,663.4 1101.4,664.6 1094.3,665.7 1087.1,666.9 1080.0,668.0 1072.7,668.0 1065.5,668.0 1058.2,668.0 1050.9,668.0 1043.6,668.0 1036.4,668.0 1029.1,668.0 1021.8,668.0 1014.5,668.0 1007.3,668.0 1000.0,668.0 992.9,668.6 985.7,669.1 978.6,669.7 971.4,670.3 964.3,670.9 957.1,671.4 950.0,672.0 942.9,672.3 935.8,672.5 928.7,672.8 921.6,673.1 914.4,673.3 907.3,673.6 900.2,673.9 893.1,674.1 886.0,674.4 878.4,676.1 870.9,677.8 863.3,679.5 855.8,681.1 848.2,682.8 840.6,684.5 833.1,686.2 825.5,687.9 817.6,690.1 809.8,692.4 802.0,694.6 794.1,696.8 786.2,699.1 778.4,701.3 771.0,702.6 763.6,704.0 756.2,705.3 748.8,706.7 741.4,708.0 734.2,709.5 727.0,711.0 719.9,712.5 712.7,714.0 705.5,715.5 698.4,717.0 691.2,718.5 684.0,720.0 679.8,726.2 675.5,732.5 671.2,738.8 667.0,745.0 662.8,751.2 658.5,757.5 654.2,763.8 650.0,770.0 643.8,773.8 637.5,777.5 631.2,781.2 625.0,785.0 618.8,788.8 612.5,792.5 606.2,796.2 605.0,797.0 605.0,900.0 1450.0,900.0" fill="#3d7a40"/>
<polygon points="1450.0,900.0 1450.0,660.0 1250.0,660.0 1243.0,661.0 1236.0,662.0 1229.0,663.0 1222.0,664.0 1215.0,665.0 1208.0,666.0 1201.0,667.0 1194.0,668.0 1187.0,669.0 1180.0,670.0 1172.9,671.4 1165.7,672.9 1158.6,674.3 1151.4,675.7 1144.3,677.1 1137.1,678.6 1130.0,680.0 1122.9,681.1 1115.7,682.3 1108.6,683.4 1101.4,684.6 1094.3,685.7 1087.1,686.9 1080.0,688.0 1072.7,688.6 1065.5,689.3 1058.2,689.9 1050.9,690.5 1043.6,691.2 1036.4,691.8 1029.1,692.5 1021.8,693.1 1014.5,693.7 1007.3,694.4 1000.0,695.0 992.9,695.1 985.7,695.3 978.6,695.4 971.4,695.6 964.3,695.7 957.1,695.9 950.0,696.0 942.9,696.5 935.8,697.0 928.6,697.5 921.5,698.0 914.4,698.5 907.2,699.0 900.1,699.5 893.0,700.0 885.2,702.0 877.3,704.0 869.5,706.0 861.7,708.0 853.8,710.0 846.0,712.0 838.3,714.7 830.7,717.3 823.0,720.0 815.3,722.7 807.7,725.3 800.0,728.0 792.0,729.2 784.0,730.4 776.0,731.6 768.0,732.8 760.0,734.0 752.5,735.4 745.0,736.8 737.5,738.1 730.0,739.5 722.5,740.9 715.0,742.2 707.5,743.6 700.0,745.0 694.1,748.8 688.2,752.6 682.4,756.5 676.5,760.3 670.6,764.1 664.7,767.9 658.8,771.8 652.9,775.6 647.1,779.4 641.2,783.2 635.3,787.1 629.4,790.9 623.5,794.7 617.6,798.5 611.8,802.4 605.9,806.2 605.0,806.8 605.0,900.0 1450.0,900.0" fill="#64a86a"/>
<polygon points="1450.0,900.0 1450.0,700.0 1250.0,700.0 1243.0,700.5 1236.0,701.0 1229.0,701.5 1222.0,702.0 1215.0,702.5 1208.0,703.0 1201.0,703.5 1194.0,704.0 1187.0,704.5 1180.0,705.0 1172.5,706.8 1165.0,708.5 1157.5,710.2 1150.0,712.0 1142.5,711.2 1135.0,710.5 1127.5,709.8 1120.0,709.0 1112.5,708.2 1105.0,707.5 1097.5,706.8 1090.0,706.0 1082.5,707.2 1075.0,708.5 1067.5,709.8 1060.0,711.0 1052.5,712.2 1045.0,713.5 1037.5,714.8 1030.0,716.0 1022.7,716.5 1015.5,717.1 1008.2,717.6 1000.9,718.2 993.6,718.7 986.4,719.3 979.1,719.8 971.8,720.4 964.5,720.9 957.3,721.5 950.0,722.0 942.9,721.5 935.8,721.0 928.6,720.5 921.5,720.0 914.4,719.5 907.2,719.0 900.1,718.5 893.0,718.0 886.3,720.4 879.6,722.9 872.9,725.3 866.1,727.7 859.4,730.1 852.7,732.6 846.0,735.0 838.7,736.9 831.3,738.8 824.0,740.7 816.7,742.6 809.3,744.4 802.0,746.3 794.7,748.2 787.3,750.1 780.0,752.0 772.5,753.2 765.0,754.5 757.5,755.8 750.0,757.0 742.5,758.2 735.0,759.5 727.5,760.8 720.0,762.0 713.7,765.1 707.4,768.1 701.1,771.2 694.7,774.2 688.4,777.3 682.1,780.3 675.8,783.4 669.5,786.4 663.2,789.5 656.8,792.5 650.5,795.6 644.2,798.6 637.9,801.7 631.6,804.7 625.3,807.8 618.9,810.8 612.6,813.9 606.3,816.9 605.0,817.6 605.0,900.0 1450.0,900.0" fill="#8dcf90"/>
<polygon points="1450.0,900.0 1450.0,720.0 1250.0,720.0 1242.7,720.1 1235.3,720.3 1228.0,720.4 1220.7,720.5 1213.3,720.7 1206.0,720.8 1198.7,720.9 1191.3,721.1 1184.0,721.2 1176.7,721.3 1169.3,721.5 1162.0,721.6 1154.7,721.7 1147.3,721.9 1140.0,722.0 1133.3,724.2 1126.7,726.3 1120.0,728.5 1113.3,730.7 1106.7,732.8 1100.0,735.0 1092.9,735.4 1085.7,735.7 1078.6,736.1 1071.4,736.4 1064.3,736.8 1057.1,737.1 1050.0,737.5 1042.9,737.9 1035.7,738.2 1028.6,738.6 1021.4,738.9 1014.3,739.3 1007.1,739.6 1000.0,740.0 993.0,740.2 986.0,740.4 979.0,740.6 972.0,740.8 965.0,741.0 958.0,741.2 951.0,741.4 944.0,741.6 937.0,741.8 930.0,742.0 922.3,741.7 914.7,741.3 907.0,741.0 899.3,740.7 891.7,740.3 884.0,740.0 876.8,741.2 869.5,742.5 862.2,743.8 855.0,745.0 848.1,746.9 841.2,748.8 834.4,750.6 827.5,752.5 820.6,754.4 813.8,756.2 806.9,758.1 800.0,760.0 792.5,761.2 785.0,762.5 777.5,763.8 770.0,765.0 762.5,766.2 755.0,767.5 747.5,768.8 740.0,770.0 733.3,772.9 726.7,775.7 720.0,778.6 713.3,781.4 706.7,784.3 700.0,787.1 693.3,790.0 686.7,792.9 680.0,795.7 673.3,798.6 666.7,801.4 660.0,804.3 653.3,807.1 646.7,810.0 640.0,812.9 633.3,815.7 626.7,818.6 620.0,821.4 613.3,824.3 606.7,827.1 605.0,827.9 605.0,900.0 1450.0,900.0" fill="#b5fbc5"/>
<polygon points="640.0,900.0 840.0,900.0 840.0,790.0 831.9,788.4 823.9,786.7 815.8,785.0 807.7,783.4 800.5,782.5 793.4,781.5 786.2,780.5 779.0,779.6 769.5,780.5 760.0,781.5 752.9,781.5 745.9,781.4 738.8,781.4 731.8,781.4 724.7,781.4 717.6,781.3 710.6,781.3 703.5,781.3 696.5,781.2 689.4,781.2 682.4,781.2 675.3,781.1 668.2,781.1 661.2,781.1 654.1,781.1 647.1,781.0 640.0,781.0 640.0,900.0" fill="#52c2b2"/>
<polygon points="700.0,900.0 840.0,900.0 840.0,806.0 831.9,806.0 823.9,806.0 815.8,806.0 807.7,806.0 798.0,808.0 791.2,810.9 784.5,813.9 777.8,816.8 771.0,819.7 763.9,819.9 756.8,820.2 749.7,820.4 742.6,820.6 735.5,820.9 728.4,821.1 721.3,821.3 714.2,821.5 707.1,821.8 700.0,822.0 700.0,900.0" fill="#72d4c0"/>
<polygon points="1120.0,748.0 1130.0,748.0 1140.0,748.0 1147.5,747.6 1155.0,747.2 1162.5,746.9 1170.0,746.5 1177.5,746.1 1185.0,745.8 1192.5,745.4 1200.0,745.0 1210.0,745.0 1220.0,745.0 1220.0,900.0 1120.0,900.0 1120.0,748.0" fill="#52c2b2"/>
<polygon points="1120.0,783.0 1130.0,783.0 1140.0,783.0 1147.5,782.6 1155.0,782.2 1162.5,781.9 1170.0,781.5 1177.5,781.1 1185.0,780.8 1192.5,780.4 1200.0,780.0 1210.0,780.0 1220.0,780.0 1220.0,900.0 1120.0,900.0 1120.0,783.0" fill="#72d4c0"/>
<polygon points="1120.0,810.0 1130.0,810.0 1140.0,810.0 1147.5,809.8 1155.0,809.5 1162.5,809.2 1170.0,809.0 1177.5,808.8 1185.0,808.5 1192.5,808.2 1200.0,808.0 1210.0,808.0 1220.0,808.0 1220.0,900.0 1120.0,900.0 1120.0,810.0" fill="#8fe3cf"/>
<polygon points="1120.0,852.0 1128.0,851.6 1136.0,851.2 1144.0,850.8 1152.0,850.4 1160.0,850.0 1167.5,850.0 1175.0,850.0 1182.5,850.0 1190.0,850.0 1197.5,850.0 1205.0,850.0 1212.5,850.0 1220.0,850.0 1220.0,900.0 1120.0,900.0 1120.0,852.0" fill="#aaf5e0"/>
<polygon points="1178.0,532.0 1190.0,520.0 1210.0,500.0 1228.0,482.0 1246.0,466.0 1240.0,455.0 1222.0,466.0 1200.0,488.0 1182.0,505.0 1168.0,528.0 1178.0,532.0" fill="#9b8508" filter="url(#pAP)"/>
<polygon points="1108.0,598.0 1125.0,585.0 1150.0,566.0 1172.0,544.0 1160.0,540.0 1140.0,556.0 1118.0,572.0 1100.0,592.0 1108.0,598.0" fill="#9b8508" filter="url(#pAP)"/>
<polygon points="1200.0,548.0 1225.0,525.0 1252.0,494.0 1245.0,490.0 1215.0,520.0 1190.0,545.0 1200.0,548.0" fill="#9b8508" filter="url(#pAP)"/>
<polygon points="661.0,278.0 700.0,278.0 720.0,232.0 722.0,197.0 661.0,197.0 661.0,278.0" fill="#fc9638" filter="url(#pP27)"/>
<polygon points="740.0,216.0 790.0,216.0 798.0,197.0 734.0,197.0 740.0,216.0" fill="#f4cccc"/>
<polygon points="839.2,211.4 851.8,220.8 865.9,227.1 847.1,235.0 850.2,239.7 859.7,242.8 867.5,245.9 872.2,253.8 883.2,257.0 887.9,258.5 897.3,275.8 922.4,277.3 925.6,258.5 995.0,220.0 957.0,205.0 925.6,205.0 909.9,200.0 894.2,200.0 872.0,185.0 859.7,185.0 826.7,190.0 839.2,211.4" fill="#f4cccc"/>
<polygon points="870.6,245.9 875.4,255.4 884.8,249.1 886.3,239.7 869.0,236.5 870.6,245.9" fill="#fc9638"/>
<polygon points="903.6,227.1 909.9,242.8 919.3,255.4 925.6,258.5 941.3,242.8 995.0,220.0 902.0,200.0 903.6,227.1" fill="#f39999"/>
<polygon points="926.0,275.0 944.0,292.0 972.0,303.0 1000.0,309.0 1022.8,300.1 1017.0,287.0 995.0,273.0 958.0,261.0 926.0,261.0 926.0,275.0" fill="#f4cccc"/>
<polygon points="958.0,261.0 995.0,273.0 1017.0,287.0 1031.0,309.0 1040.0,292.0 1048.0,284.0 1065.0,277.0 1087.0,278.0 1110.0,280.0 1104.0,270.0 1090.0,267.0 1087.0,258.0 1048.0,264.0 1037.0,264.0 1014.0,257.0 1012.0,253.0 1026.0,239.0 1014.0,239.0 992.0,250.0 970.0,261.0 950.0,253.0 958.0,261.0" fill="#f39999"/>
<polygon points="1065.0,314.0 1098.0,320.0 1126.0,328.0 1126.0,309.0 1121.0,298.0 1093.0,284.0 1062.0,286.0 1065.0,314.0" fill="#f4cccc"/>
<polygon points="1290.0,345.0 1310.0,362.0 1346.0,362.0 1346.0,307.0 1315.0,307.0 1289.0,322.0 1290.0,345.0" fill="#f4cccc"/>
<polygon points="1315.0,350.0 1340.0,345.0 1335.0,315.0 1305.0,322.0 1315.0,350.0" fill="#f39999"/>
<polygon points="1305.0,392.0 1333.0,392.0 1331.0,364.0 1303.0,366.0 1305.0,392.0" fill="#f4cccc"/>
<polygon points="1346.0,372.0 1370.0,352.0 1404.0,362.0 1398.0,300.0 1346.0,306.0 1346.0,372.0" fill="#f4cccc"/>
<polygon points="1362.0,372.0 1407.0,372.0 1404.0,342.0 1366.0,346.0 1362.0,372.0" fill="#fc9638"/>
<polygon points="1404.0,362.0 1410.0,353.0 1460.0,323.0 1490.0,310.0 1474.0,286.0 1471.0,247.0 1440.0,238.0 1421.0,266.0 1398.0,300.0 1404.0,362.0" fill="#f4cccc"/>
<polygon points="1410.0,308.0 1440.0,295.0 1474.0,288.0 1471.0,247.0 1440.0,238.0 1421.0,266.0 1398.0,300.0 1410.0,308.0" fill="#f39999"/>
<polygon points="1404.0,364.0 1410.0,353.0 1432.0,342.0 1460.0,323.0 1477.0,320.0 1492.0,312.0 1455.0,306.0 1401.0,332.0 1404.0,364.0" fill="#fc9638"/>
<polygon points="661.0,350.0 678.0,345.0 676.0,315.0 660.0,316.8 660.0,347.1 661.0,350.0" fill="#fda95c" filter="url(#pR)"/>
<polygon points="150.0,900.0 605.0,900.0 605.0,672.0 683.0,672.0 683.0,531.0 706.0,531.0 706.0,418.0 660.0,418.0 660.0,100.0 150.0,100.0 150.0,900.0" fill="#fda95c"/>
<polygon points="205.0,272.0 236.0,272.0 243.0,240.0 243.0,212.0 198.0,212.0 205.0,272.0" fill="#fda95c" filter="url(#pR)"/>
<polygon points="238.0,279.0 262.0,276.0 256.0,240.0 236.0,246.0 238.0,279.0" fill="#fc9638"/>
<polygon points="256.0,255.0 264.0,282.0 300.0,278.0 296.0,255.0 306.0,235.0 305.0,196.0 250.0,196.0 256.0,255.0" fill="#fda95c" filter="url(#pR)"/>
<polygon points="272.0,235.0 290.0,225.0 288.0,200.0 262.0,200.0 272.0,235.0" fill="#fda95c" filter="url(#pW)"/>
<polygon points="302.0,214.0 340.0,222.0 371.0,224.0 371.0,196.0 300.0,196.0 302.0,214.0" fill="#fda95c" filter="url(#pR)"/>
<polygon points="300.0,282.0 371.0,279.0 371.0,226.0 298.0,216.0 300.0,282.0" fill="#fda95c" filter="url(#pE27)"/>
<polygon points="300.0,281.0 360.0,276.0 345.0,250.0 300.0,245.0 300.0,281.0" fill="#fda95c"/>
<polygon points="306.0,265.0 322.0,277.0 329.0,274.0 314.0,256.0 305.0,254.0 306.0,265.0" fill="#9b8508"/>
<polygon points="350.0,306.0 375.0,310.0 383.0,293.0 371.0,279.0 338.0,279.0 350.0,306.0" fill="#fda95c" filter="url(#pR)"/>
<polygon points="205.0,391.0 245.0,391.0 245.0,282.0 205.0,280.0 205.0,391.0" fill="#fec073" filter="url(#pOP)"/>
<polygon points="245.0,391.0 275.0,391.0 272.0,285.0 242.0,282.0 245.0,391.0" fill="#fda95c" filter="url(#pB)"/>
<polygon points="275.0,391.0 372.0,391.0 372.0,279.0 272.0,285.0 275.0,391.0" fill="#fec073" filter="url(#pPO)"/>
<polygon points="258.0,360.0 290.0,382.0 345.0,375.0 350.0,330.0 330.0,305.0 262.0,318.0 258.0,360.0" fill="#fda95c" filter="url(#pR)"/>
<polygon points="305.0,362.0 332.0,345.0 318.0,325.0 290.0,335.0 305.0,362.0" fill="#f06666"/>
<polygon points="284.0,318.0 310.0,316.0 312.0,287.0 282.0,288.0 284.0,318.0" fill="#fda95c"/>
<polygon points="336.0,387.0 370.0,389.0 370.0,333.0 338.0,338.0 336.0,387.0" fill="#fda95c"/>
<polygon points="371.0,300.0 380.0,345.0 505.0,345.0 505.0,317.0 465.0,324.3 441.0,291.0 430.0,287.3 420.7,261.4 394.8,220.7 394.8,195.5 371.0,196.0 371.0,300.0" fill="#fda95c" filter="url(#pR)"/>
<polygon points="380.0,320.0 395.0,352.0 470.0,350.0 462.0,325.0 430.0,275.0 378.0,272.0 380.0,320.0" fill="#fda95c" filter="url(#pB)"/>
<polygon points="371.0,391.0 505.0,391.0 505.0,330.0 371.0,338.0 371.0,391.0" fill="#fec073" filter="url(#pPO)"/>
<polygon points="385.0,385.0 430.0,378.0 490.0,380.0 480.0,360.0 420.0,345.0 378.0,350.0 385.0,385.0" fill="#fda95c"/>
<polygon points="394.8,220.7 420.7,261.4 430.0,287.3 441.0,291.0 465.0,324.3 502.0,317.0 520.0,307.0 505.0,230.0 500.0,196.0 394.8,195.5 394.8,220.7" fill="#fda95c" filter="url(#pR)"/>
<polygon points="440.0,290.0 470.0,300.0 450.0,240.0 410.0,220.0 440.0,290.0" fill="#fda95c" filter="url(#pB)"/>
<polygon points="480.0,307.0 660.0,307.0 660.0,196.0 480.0,196.0 480.0,307.0" fill="#fec073" filter="url(#pPO)"/>
<polygon points="500.0,290.0 535.0,285.0 530.0,238.0 495.0,240.0 500.0,290.0" fill="#fda95c" filter="url(#pR)"/>
<polygon points="480.0,315.0 552.0,307.0 547.0,290.0 480.0,287.0 480.0,315.0" fill="#fda95c" filter="url(#pW)"/>
<polygon points="568.8,225.4 552.7,233.4 547.3,252.3 560.7,265.7 552.7,287.3 560.7,307.4 587.6,307.4 614.6,298.0 630.7,292.6 641.5,307.4 660.0,307.4 660.0,209.2 654.9,209.2 614.6,211.9 587.6,206.5 560.7,209.2 568.8,225.4" fill="#fda95c" filter="url(#pE27)"/>
<polygon points="592.0,255.0 609.0,253.0 607.0,233.0 590.0,235.0 592.0,255.0" fill="#f4cccc"/>
<polygon points="629.0,255.0 647.0,253.0 645.0,233.0 627.0,235.0 629.0,255.0" fill="#f4cccc"/>
<polygon points="597.0,298.0 620.0,296.0 618.0,277.0 595.0,278.0 597.0,298.0" fill="#f4cccc"/>
<polygon points="505.0,419.0 661.0,419.0 661.0,418.0 660.0,418.0 660.0,307.0 505.0,307.0 505.0,419.0" fill="#fda95c" filter="url(#pR)"/>
<polygon points="545.0,372.0 660.0,372.0 660.0,307.0 545.0,307.0 545.0,372.0" fill="#f4cccc"/>
<polygon points="552.7,335.7 577.0,335.7 577.0,309.0 552.7,309.0 552.7,335.7" fill="#fc9638"/>
<polygon points="558.0,370.7 577.0,370.7 577.0,352.0 558.0,352.0 558.0,370.7" fill="#fc9638"/>
<polygon points="601.0,335.7 660.0,335.7 660.0,309.0 601.0,309.0 601.0,335.7" fill="#fc9638"/>
<polygon points="625.0,373.4 660.0,373.4 660.0,335.7 625.0,335.7 625.0,373.4" fill="#fc9638"/>
<polygon points="505.6,395.0 548.0,395.0 556.0,350.0 545.0,307.4 505.6,307.4 505.6,395.0" fill="#fda95c" filter="url(#pW)"/>
<polygon points="585.0,354.0 598.4,354.5 586.0,311.0 571.5,311.5 585.0,354.0" fill="#fda95c" filter="url(#pW)"/>
<polygon points="587.0,350.0 594.0,350.0 586.0,320.0 578.0,318.0 587.0,350.0" fill="#ffffff"/>
<polygon points="530.0,370.0 545.0,372.0 530.0,335.0 515.0,330.0 530.0,370.0" fill="#ffffff"/>
<polygon points="437.0,531.0 549.0,531.0 549.0,419.0 505.0,419.0 505.0,391.0 437.0,391.0 437.0,531.0" fill="#fec073" filter="url(#pOP)"/>
<polygon points="492.0,470.0 506.0,470.0 506.0,392.0 490.0,392.0 492.0,470.0" fill="#fda95c" filter="url(#pR)"/>
<polygon points="506.0,436.0 546.0,436.0 546.0,419.0 506.0,419.0 506.0,436.0" fill="#fda95c" filter="url(#pW)"/>
<polygon points="502.0,520.0 515.0,531.0 549.0,520.0 549.0,465.0 502.0,468.0 502.0,520.0" fill="#9b8508"/>
<polygon points="304.0,476.0 417.0,581.0 424.0,559.0 437.0,531.0 437.0,391.0 304.0,391.0 304.0,476.0" fill="#fec073" filter="url(#pOP)"/>
<polygon points="320.0,425.0 437.0,420.0 437.0,391.0 310.0,391.0 320.0,425.0" fill="#fec073" filter="url(#pPO)"/>
<polygon points="417.0,581.0 424.0,559.0 437.0,557.0 437.0,514.0 352.0,514.0 417.0,581.0" fill="#7ddc10" filter="url(#pOY)"/>
<polygon points="210.0,430.0 245.0,440.0 305.0,440.0 305.0,391.0 208.0,391.0 210.0,430.0" fill="#fec073" filter="url(#pPO)"/>
<polygon points="208.0,437.0 222.0,478.0 250.0,496.0 245.0,410.0 208.0,400.0 208.0,437.0" fill="#fec073" filter="url(#pOP)"/>
<polygon points="220.0,470.0 236.0,495.0 262.0,548.0 300.0,605.0 325.0,590.0 290.0,530.0 262.0,460.0 250.0,425.0 215.0,435.0 220.0,470.0" fill="#7ddc10" filter="url(#pOY)"/>
<polygon points="280.0,470.0 298.0,506.0 318.0,532.0 335.0,562.0 348.0,580.0 356.0,560.0 352.0,525.0 335.0,505.0 305.0,476.0 305.0,440.0 290.0,425.0 258.0,420.0 280.0,470.0" fill="#fda95c" filter="url(#pR)"/>
<polygon points="320.0,522.0 335.0,546.0 342.0,538.0 326.0,505.0 312.0,497.0 320.0,522.0" fill="#fda95c" filter="url(#pW)"/>
<polygon points="300.0,560.0 325.0,592.0 340.0,590.0 342.0,560.0 334.0,535.0 318.0,512.0 300.0,485.0 285.0,460.0 268.0,440.0 300.0,560.0" fill="#7ddc10" filter="url(#pOY)"/>
<polygon points="242.0,456.0 250.0,480.0 260.0,505.0 272.0,525.0 288.0,550.0 300.0,572.0 320.0,592.0 340.0,590.0 340.0,573.0 334.0,549.0 320.0,529.0 306.0,505.0 292.0,480.0 280.0,460.0 262.0,425.0 240.0,428.0 242.0,456.0" fill="#b8aa00"/>
<polygon points="248.2,456.3 256.3,480.5 266.4,504.7 278.5,525.0 294.7,549.1 306.8,569.3 324.9,587.5 333.0,587.5 333.0,573.4 329.0,549.1 314.8,529.0 300.7,504.7 284.6,480.5 272.5,460.4 256.3,428.0 246.2,430.0 248.2,456.3" fill="#4ccb10"/>
<polygon points="266.4,504.7 278.5,525.0 294.7,549.1 306.8,569.3 324.9,587.5 333.0,587.5 333.0,573.4 329.0,549.1 314.8,529.0 300.7,504.7 284.6,480.5 262.0,480.0 266.4,504.7" fill="#7ddc10"/>
<polygon points="285.0,575.0 291.0,600.0 306.0,603.0 372.0,607.0 372.0,580.0 335.0,590.0 300.0,575.0 262.0,548.0 285.0,575.0" fill="#64a86a" filter="url(#pGY)"/>
<polygon points="305.0,592.0 330.0,592.0 322.0,583.0 300.0,580.0 305.0,592.0" fill="#ffff00"/>
<polygon points="330.0,609.0 350.0,625.0 369.0,655.0 422.0,655.0 426.0,626.0 435.0,609.0 424.0,590.0 345.0,575.0 330.0,609.0" fill="#3d7a40" filter="url(#pDG)"/>
<polygon points="345.0,580.0 380.0,610.0 426.0,626.0 436.0,606.0 422.0,585.0 345.0,545.0 345.0,580.0" fill="#64a86a" filter="url(#pGY)"/>
<polygon points="437.0,600.0 551.0,620.0 551.0,531.0 437.0,531.0 437.0,600.0" fill="#fec073" filter="url(#pOP)"/>
<polygon points="460.0,565.0 490.0,575.0 520.0,590.0 551.0,600.0 551.0,575.0 520.0,560.0 500.0,545.0 465.0,548.0 460.0,565.0" fill="#9b8508"/>
<polygon points="425.0,640.0 482.0,627.0 470.0,585.0 445.0,545.0 420.0,560.0 425.0,640.0" fill="#64a86a" filter="url(#pGY)"/>
<polygon points="470.0,660.0 551.0,690.0 551.0,598.0 470.0,595.0 470.0,660.0" fill="#64a86a" filter="url(#pGY)"/>
<polygon points="422.5,655.3 505.8,688.6 551.0,690.0 540.0,660.0 495.0,628.0 422.0,622.0 422.5,655.3" fill="#3d7a40" filter="url(#pDG)"/>
<polygon points="445.0,660.0 478.0,652.0 470.0,628.0 440.0,630.0 445.0,660.0" fill="#8dcf90"/>
<polygon points="470.0,672.0 505.8,688.6 550.0,690.0 545.0,650.0 520.0,622.0 465.0,625.0 470.0,672.0" fill="#3d7a40" filter="url(#pDG2)"/>
<polygon points="549.0,531.0 683.0,531.0 706.0,531.0 706.0,419.0 549.0,419.0 549.0,531.0" fill="#fec073" filter="url(#pOP)"/>
<polygon points="565.0,531.0 640.0,531.0 645.0,419.0 570.0,419.0 565.0,531.0" fill="#fda95c" filter="url(#pR)"/>
<polygon points="598.0,480.0 600.0,531.0 615.0,531.0 625.0,470.0 628.0,419.0 595.0,419.0 598.0,480.0" fill="#fda95c" filter="url(#pW)"/>
<polygon points="572.0,520.0 598.0,520.0 600.0,490.0 568.0,495.0 572.0,520.0" fill="#fda95c" filter="url(#pW)"/>
<polygon points="612.0,531.0 630.0,531.0 628.0,492.0 610.0,495.0 612.0,531.0" fill="#f4cccc"/>
<polygon points="645.0,470.0 640.0,531.0 683.0,531.0 706.0,531.0 706.0,419.0 640.0,419.0 645.0,470.0" fill="#fec073"/>
<polygon points="655.0,485.0 680.0,490.0 690.0,445.0 650.0,440.0 655.0,485.0" fill="#fda95c"/>
<polygon points="665.0,531.0 683.0,531.0 706.0,531.0 706.0,493.0 675.0,490.0 662.0,495.0 665.0,531.0" fill="#7a5c08"/>
<polygon points="549.0,672.0 605.0,672.0 683.0,672.0 683.0,531.0 549.0,531.0 549.0,672.0" fill="#fec073" filter="url(#pOP)"/>
<polygon points="600.0,575.0 635.0,568.0 642.0,531.0 583.0,531.0 600.0,575.0" fill="#fda95c" filter="url(#pR)"/>
<polygon points="553.0,568.0 583.0,568.0 583.0,531.0 553.0,531.0 553.0,568.0" fill="#9b8508"/>
<polygon points="595.0,600.0 600.0,647.0 617.0,647.0 617.0,563.0 583.0,563.0 595.0,600.0" fill="#9b8508"/>
<polygon points="645.0,603.0 683.0,603.0 683.0,550.2 637.0,558.0 645.0,603.0" fill="#b8aa00"/>
<polygon points="642.0,640.0 683.0,625.4 683.0,592.2 632.0,602.0 642.0,640.0" fill="#ffff00"/>
<polygon points="551.0,690.0 570.0,690.0 605.0,672.0 683.0,672.0 683.0,605.1 637.0,612.0 600.0,640.0 551.0,640.0 551.0,690.0" fill="#64a86a" filter="url(#pGY)"/>
<polygon points="640.0,665.0 683.0,671.8 683.0,612.2 640.0,620.0 640.0,665.0" fill="#4ccb10"/>
<polygon points="612.0,650.0 622.0,650.0 625.0,622.0 610.0,620.0 612.0,650.0" fill="#fda95c"/>
</g></g>
<polygon points="1105,281 1095,280 1082,277 1070,279 1055,282 1042,287 1030,302 1020,320 1027,312 1032,307 1040,300 1032,317 1027,335 1024,355 1025,380 1030,395 1035,402 1050,396 1057,385 1061,370 1057,350 1054,337 1057,320 1065,310 1075,302 1087,295 1090,287" fill="#fff" stroke="#000" stroke-width="3.9" stroke-linejoin="round"/>
<polygon points="1338,416.9 1370.2,414.2 1381.9,417.8 1355.9,426.7 1336.1,433 1325.4,433 1338,423.2" fill="#fda95c" stroke="#000" stroke-width="3.9" stroke-linejoin="round"/>
<polygon points="236,204 242,200 246,206 247,218 252,226 250,240 244,251 238,249 236,240 241,234 240,222 237,214" fill="#000" stroke="#000" stroke-width="3" stroke-linejoin="round"/>
<ellipse cx="1409" cy="409" rx="4.5" ry="2.8" fill="#000"/>
<ellipse cx="1421" cy="411" rx="4.5" ry="2.8" fill="#000"/>
<ellipse cx="253" cy="508" rx="4" ry="6" fill="#000"/>
<ellipse cx="1140" cy="788" rx="4.5" ry="5" fill="#000"/>
<ellipse cx="1149" cy="814" rx="3.5" ry="3.5" fill="#000"/>
<ellipse cx="975" cy="721" rx="6" ry="4" fill="#b5fbc5" stroke="#000" stroke-width="3.5"/>
<ellipse cx="306" cy="615.5" rx="10" ry="2.2" fill="#7ddc10" transform="rotate(-6 306 615.5)"/>
<ellipse cx="315" cy="636" rx="2" ry="2.5" fill="#3d7a40"/>
<ellipse cx="339" cy="633" rx="3.5" ry="2.5" fill="#64a86a"/>
<ellipse cx="338" cy="645" rx="2" ry="3" fill="#64a86a"/>
<ellipse cx="996" cy="204" rx="8" ry="2.6" fill="#e6b5ad" transform="rotate(-20 996 204)"/>
<g fill="none" stroke="#000" stroke-width="3.9" stroke-linejoin="round" stroke-linecap="round">
<polygon points="199.6,213.5 216.4,217.7 236,220.5 238.9,209.2 243,196.6 859.7,195.7 859.7,185.5 869,185.5 872.2,203.5 891,206.7 892.6,209.8 902,205.1 913,206.7 919.3,211.4 924,216.1 928.7,213 941.3,220.8 957,216.1 972.7,220.8 986.8,224 975,229 957,237 940,247 925,257 924,260 940,256 955,252 957,262 972,265 987,255 1000,245 1015,239 1026,240 1012,250 1011,256 1025,260 1037,266 1062,262 1087,259 1090,265 1102,267 1110,279 1105,281 1090,287 1105,290 1120,295 1125,305 1125,317 1120,330 1112,340 1117,345 1127,337 1136,335 1142,345 1145,370 1140,375 1132,382 1127,395 1122,400 1135,406 1150,407 1175,397 1200,387 1210,381 1223,372 1219,357 1247,352 1277,350 1282,335 1292,322 1312,307 1347,307 1387,307 1399,300 1407,290 1422,267 1439,240 1452,242 1472,245 1477,285 1489,310 1477,320 1457,325 1442,335 1422,350 1407,362 1402.5,366.7 1406.1,372.9 1400.7,381 1405.2,384.6 1409.7,392.7 1410.6,395.5 1418,395.5 1418.7,389.1 1424,392.7 1423.1,398 1410.6,399.5 1406.1,399.8 1397.1,404.3 1390,405.2 1382.8,409.7 1357.7,411.5 1343.3,413.3 1337.2,420.2 1327.1,432.5 1333.9,434.7 1332.7,450.4 1324.9,462.7 1317,471.7 1312.6,477.3 1307,478 1310.3,485.2 1309.2,500 1300.6,510 1290.5,524.7 1290.5,530.7 1296.5,552.9 1299.6,565 1294.5,571 1282.4,581.1 1278.4,591.2 1270.3,593.2 1258.2,597.3 1250.2,611.4 1232,618 1217,636 1197,651 1182,666 1172,686 1164,706 1177,746 1189,771 1199,806 1197,846 1187,858 1174,861 1164,841 1152,816 1139,791 1137,766 1129,741 1112,726 1097,726 1082,733 1061,716 1028,716 1016,716 986,718 996,741 991,753 981,746 961,748 946,741 927.8,733.9 918.3,739.6 905,733.9 887.8,733.9 870.6,739.6 859.2,751 840.1,762.5 824.8,770.1 811.5,783.4 805.8,796.8 807.7,814 808.7,839.3 775.1,829.2 765,802.3 748.1,775.3 734.7,755.2 717.9,735 701,731.6 690.9,738.3 680.8,755.2 650.6,738.3 643.8,718.1 623.6,694.6 603.5,672.7 570,676 570,690 550,690 505.8,688.6 422.5,655.3 368.9,655.3 368.9,655.3 361.5,640.5 350.4,625.7 335.6,614.6 324.5,609 306,603.5 291.2,599.8 287.5,581.3 280.1,566.5 272.5,561.2 262.4,545.1 262.4,533 258.3,516.9 248.2,498.7 244.2,500.7 232.1,490.6 220,476.5 220,452.3 208,437 209.8,422.2 211.6,400 210.8,391.5 205.2,371.8 206.6,360.6 210.8,327 213.6,296 216.4,276.5 213.6,273.7 216.4,251.3 208,234.5" stroke-width="3.9"/>
<polyline points="216.4,275 238.9,276.5 244.5,290.5 278,287.7 328.6,279.3 373.4,278"/>
<polyline points="373,196 373.4,278"/>
<polyline points="373.4,278 381.9,290.5 370.6,321.4 373.4,329.8 372,391"/>
<polyline points="209,391 505,391"/>
<polyline points="394.8,195.5 394.8,220.7 402.2,235.5 420.7,261.4 428.1,263.2 430,287.3 441,291 450.3,302 459.5,320.6 465,324.3 491,318.7 502,317 505,307.6"/>
<polyline points="505,307 660,307"/>
<polyline points="505,307 505,418"/>
<polyline points="505,418 706,418"/>
<polyline points="660,196 660,418"/>
<polyline points="304.1,391 304.1,475.8 422.5,585"/>
<polyline points="437.3,391 437.3,529.5 437.3,557.2 424.4,559 417,581.3 424.4,588.7 435.5,609 426.2,625.7 428,640.5 422.5,655.3"/>
<polyline points="438,531 683,531"/>
<polyline points="550,418 550,690"/>
<polyline points="706,418 706,531"/>
<polyline points="660,282 827,282"/>
<polyline points="660,364 786,364 796,367 816,369 828,374"/>
<polyline points="828,374 836,385 842.8,420 844.3,426.3 853.7,443.5 864.7,451.4 861.6,459.2 871,470.2 872.6,470.2 872.6,546 873,560 873,623"/>
<polyline points="815,196 818,225 823,250 827,282 823,292 830,305 830,374"/>
<polyline points="830,350 949,350"/>
<polyline points="926,261.3 926,275.3 913.5,283.7 910.6,297.7 913.5,317.3 930.3,325.7 944.3,342.6 947,349.6 952.7,359.4 961,376 969.5,387.4 966.7,401.4 952.7,412.6 951.3,420 943.2,431 941.6,448.2 949.5,460.8 960.5,471.8 962,479.6 971.4,481.2 966.7,495.3 977.7,506.3 987.1,514.1 990.3,526.7 995,533 993.4,542.4 987.3,545 980.9,558.4 975.7,581 961.3,595.3 950.6,624 949,643 954.2,660 948,680 938,698"/>
<polyline points="966,377 1027,377"/>
<polyline points="957,262 990,277 1005,290 1012,300 1020,320"/>
<polyline points="706,447.5 853.7,447.5"/>
<polyline points="683,531 871,531"/>
<polyline points="683,546 752,546"/>
<polyline points="683,531 683,671 605,671"/>
<polyline points="752,546 750.9,599.4 756,602 761.6,603.7 765,608 770.1,610.1 778,609 785,612.2 795.6,614.3 799.9,620.7 806,618 814.8,622.9 822,621 831.8,623.9 840,620 848,619 857.4,616.5 866,621 874.4,626 883,626"/>
<polyline points="871.4,545.5 971.4,545.5 974.6,548.7 968.3,556.5 980.9,558.4"/>
<polyline points="884,623 884,643 948,643"/>
<polyline points="884,643 886,676 893,691 893.5,715 890,733.9"/>
<polyline points="847.5,430.2 943.2,431"/>
<polyline points="938,698 981,698 983,718"/>
<polyline points="1018.7,588 1009.8,700 1011,706 1016,716"/>
<polyline points="1031,716 1031,701 1082,701"/>
<polyline points="1082,588 1089,666 1087,706"/>
<polyline points="1087,706 1152,711 1164,706"/>
<polyline points="971,588 1124,588"/>
<polyline points="993.7,543.5 1017.1,544.6 1019.3,541.4 1290,542"/>
<polyline points="1102,583 1122,573 1147,556 1162,543"/>
<polyline points="1102,583 1124,588"/>
<polyline points="1124,591 1147,616 1162,636 1172,656 1179,666"/>
<polyline points="1124,591 1172,583 1182,593 1207,593 1232,618"/>
<polyline points="995,533 1000.1,524.3 1008.6,526.5 1015,515.8 1027.8,505.2"/>
<polyline points="1031,397 1031,469 1027.8,473.2 1032,481.8 1021.4,496.7 1017.1,509.4 1008.6,522.2 1006.5,528.6"/>
<polyline points="1027.8,505.2 1038.4,507.3 1049.1,503 1061.8,500.9 1070.4,494.5 1081,483.9 1091.6,475.4 1104.4,475.4 1113,481.8 1132.2,483.4 1143,494.1 1156.4,478 1169.9,464.5 1180.6,451.1 1186,432.3"/>
<polyline points="1117,541 1147,521 1150,516 1142,496"/>
<polyline points="1150,516 1165,525 1182,520 1195,510 1200,497 1210,485 1225,470 1237,457"/>
<polyline points="1210,455 1210,470 1220,462 1232,457 1245,462 1250,467"/>
<polyline points="1250,467 1260,477 1265,490 1260,495 1267,500 1275,515 1280,530 1286,535"/>
<polyline points="1092,399 1092,471"/>
<polyline points="1031,400 1092,399 1122,400"/>
<polyline points="1187,391 1187,455"/>
<polyline points="1204,381 1204,391 1305,391"/>
<polyline points="1187,455 1300,455"/>
<polyline points="1305,391 1309.2,400 1310.3,404.5 1316,410 1310.3,419 1307,426.9 1310.3,434.7 1317,442.6 1310.3,449.3 1301.4,452.7 1296,455 1298,462 1303.6,469.5 1308,477"/>
<polyline points="1316,410 1337.2,420.2"/>
<polyline points="1294.5,452.1 1296.5,488.4 1306.6,488.4"/>
<polyline points="1348,307 1348.7,371.1 1346.9,389.1 1343.3,413.3"/>
<polyline points="1387.3,306.2 1384.5,328 1370.5,347.7 1364.8,369.3"/>
<polyline points="1398.5,300 1404,361.7 1402.5,366.7"/>
<polyline points="1348.7,370.7 1394.4,372 1402.5,366.7"/>
<polyline points="1346.9,390 1391.7,390 1393.5,397.2 1390,405.2"/>
<polyline points="1383.7,390 1383.7,409.7"/>
<polyline points="1288.5,458.1 1274.4,468.2 1276.4,480.3 1270.3,488.4 1262.3,492.4 1268.3,494.4 1270.3,504.5 1278.4,510.6 1274.4,516.6 1270.3,524.7 1278.4,528.7 1282.4,534.8"/>
<polyline points="1288.5,458.1 1278.4,470.2 1282.4,480.3 1280.4,492.4 1286.5,500.5 1284.4,512.6 1290.5,522.7"/>
<polyline points="1266,500 1276,506"/>
<polyline points="1262,512 1274,517"/>
<polyline points="1264,521 1276,526"/>
<polyline points="1272.3,550.9 1274.4,561 1286.5,559 1288.5,567 1276.4,573 1266.3,575.1 1276.4,581.1 1266.3,585.2 1270.3,589.2 1258.2,595.2"/>
</g>
<rect x="1535.0" y="386.00" width="25.5" height="25.8" fill="#aaf5e0"/>
<rect x="1535.0" y="411.53" width="25.5" height="25.8" fill="#8fe3cf"/>
<rect x="1535.0" y="437.06" width="25.5" height="25.8" fill="#72d4c0"/>
<rect x="1535.0" y="462.59" width="25.5" height="25.8" fill="#52c2b2"/>
<rect x="1535.0" y="488.12" width="25.5" height="25.8" fill="#b5fbc5"/>
<rect x="1535.0" y="513.65" width="25.5" height="25.8" fill="#8dcf90"/>
<rect x="1535.0" y="539.18" width="25.5" height="25.8" fill="#64a86a"/>
<rect x="1535.0" y="564.71" width="25.5" height="25.8" fill="#3d7a40"/>
<rect x="1535.0" y="590.24" width="25.5" height="25.8" fill="#ccff00"/>
<rect x="1535.0" y="615.77" width="25.5" height="25.8" fill="#a8ee00"/>
<rect x="1535.0" y="641.30" width="25.5" height="25.8" fill="#7ddc10"/>
<rect x="1535.0" y="666.83" width="25.5" height="25.8" fill="#4ccb10"/>
<rect x="1535.0" y="692.36" width="25.5" height="25.8" fill="#ffff00"/>
<rect x="1535.0" y="717.89" width="25.5" height="25.8" fill="#ddd600"/>
<rect x="1535.0" y="743.42" width="25.5" height="25.8" fill="#b8aa00"/>
<rect x="1661.5" y="386.00" width="25.5" height="25.8" fill="#9b8508"/>
<rect x="1661.5" y="411.53" width="25.5" height="25.8" fill="#7a5c08"/>
<rect x="1661.5" y="437.06" width="25.5" height="25.8" fill="#fed68f"/>
<rect x="1661.5" y="462.59" width="25.5" height="25.8" fill="#fec073"/>
<rect x="1661.5" y="488.12" width="25.5" height="25.8" fill="#fda95c"/>
<rect x="1661.5" y="513.65" width="25.5" height="25.8" fill="#fc9638"/>
<rect x="1661.5" y="539.18" width="25.5" height="25.8" fill="#f4cccc"/>
<rect x="1661.5" y="564.71" width="25.5" height="25.8" fill="#f39999"/>
<rect x="1661.5" y="590.24" width="25.5" height="25.8" fill="#f06666"/>
<rect x="1661.5" y="615.77" width="25.5" height="25.8" fill="#ff3333"/>
<rect x="1661.5" y="641.30" width="25.5" height="25.8" fill="#e6b5ad"/>
<rect x="1661.5" y="666.83" width="25.5" height="25.8" fill="#cc8e80"/>
<rect x="1661.5" y="692.36" width="25.5" height="25.8" fill="#b36a5a"/>
<rect x="1661.5" y="717.89" width="25.5" height="25.8" fill="#9a4535"/>
<rect x="1661.5" y="743.42" width="25.5" height="25.8" fill="#801e10"/>
<rect x="1788.0" y="386.00" width="25.5" height="25.8" fill="#ffaadd"/>
<rect x="1788.0" y="411.53" width="25.5" height="25.8" fill="#ff80e0"/>
<rect x="1788.0" y="437.06" width="25.5" height="25.8" fill="#ff55ee"/>
<rect x="1788.0" y="462.59" width="25.5" height="25.8" fill="#ff20ff"/>
<rect x="1788.0" y="488.12" width="25.5" height="25.8" fill="#e0c0e8"/>
<rect x="1788.0" y="513.65" width="25.5" height="25.8" fill="#c898d8"/>
<rect x="1788.0" y="539.18" width="25.5" height="25.8" fill="#b070c8"/>
</svg>
<div class="t title">Pine tree lappet moth: Earliest date of OW gen. egg laying 2026</div>
<div class="t sub" style="top:86px">Maps and modeling 01/13/2026 by Oregon State University IPPC USPEST.ORG and</div>
<div class="t sub" style="top:117.6px">USDA-APHIS-PPQ; climate data from OSU PRISM Climate Group</div>
<div class="t lt" style="top:295.2px">Earliest date</div>
<div class="t lt" style="top:323px">of OW gen. egg</div>
<div class="t lt" style="top:350.8px">laying</div>
<div class="t lab" style="left:1570.8px;top:389.0px">Feb-07</div>
<div class="t lab" style="left:1570.8px;top:414.5px">Feb-14</div>
<div class="t lab" style="left:1570.8px;top:440.1px">Feb-21</div>
<div class="t lab" style="left:1570.8px;top:465.6px">Feb-28</div>
<div class="t lab" style="left:1570.8px;top:491.1px">Mar-07</div>
<div class="t lab" style="left:1570.8px;top:516.6px">Mar-14</div>
<div class="t lab" style="left:1570.8px;top:542.2px">Mar-21</div>
<div class="t lab" style="left:1570.8px;top:567.7px">Mar-28</div>
<div class="t lab" style="left:1570.8px;top:593.2px">Apr-04</div>
<div class="t lab" style="left:1570.8px;top:618.8px">Apr-11</div>
<div class="t lab" style="left:1570.8px;top:644.3px">Apr-18</div>
<div class="t lab" style="left:1570.8px;top:669.8px">Apr-25</div>
<div class="t lab" style="left:1570.8px;top:695.4px">May-02</div>
<div class="t lab" style="left:1570.8px;top:720.9px">May-09</div>
<div class="t lab" style="left:1570.8px;top:746.4px">May-16</div>
<div class="t lab" style="left:1697.6px;top:389.0px">May-23</div>
<div class="t lab" style="left:1697.6px;top:414.5px">May-30</div>
<div class="t lab" style="left:1697.6px;top:440.1px">Jun-06</div>
<div class="t lab" style="left:1697.6px;top:465.6px">Jun-13</div>
<div class="t lab" style="left:1697.6px;top:491.1px">Jun-20</div>
<div class="t lab" style="left:1697.6px;top:516.6px">Jun-27</div>
<div class="t lab" style="left:1697.6px;top:542.2px">Jul-04</div>
<div class="t lab" style="left:1697.6px;top:567.7px">Jul-11</div>
<div class="t lab" style="left:1697.6px;top:593.2px">Jul-18</div>
<div class="t lab" style="left:1697.6px;top:618.8px">Jul-25</div>
<div class="t lab" style="left:1697.6px;top:644.3px">Aug-01</div>
<div class="t lab" style="left:1697.6px;top:669.8px">Aug-08</div>
<div class="t lab" style="left:1697.6px;top:695.4px">Aug-15</div>
<div class="t lab" style="left:1697.6px;top:720.9px">Aug-22</div>
<div class="t lab" style="left:1697.6px;top:746.4px">Aug-29</div>
<div class="t lab" style="left:1824.4px;top:389.0px">Sep-05</div>
<div class="t lab" style="left:1824.4px;top:414.5px">Sep-12</div>
<div class="t lab" style="left:1824.4px;top:440.1px">Sep-19</div>
<div class="t lab" style="left:1824.4px;top:465.6px">Sep-26</div>
<div class="t lab" style="left:1824.4px;top:491.1px">Oct-03</div>
<div class="t lab" style="left:1824.4px;top:516.6px">Oct-10</div>
<div class="t lab" style="left:1824.4px;top:542.2px">Oct-17</div>
</body></html>
